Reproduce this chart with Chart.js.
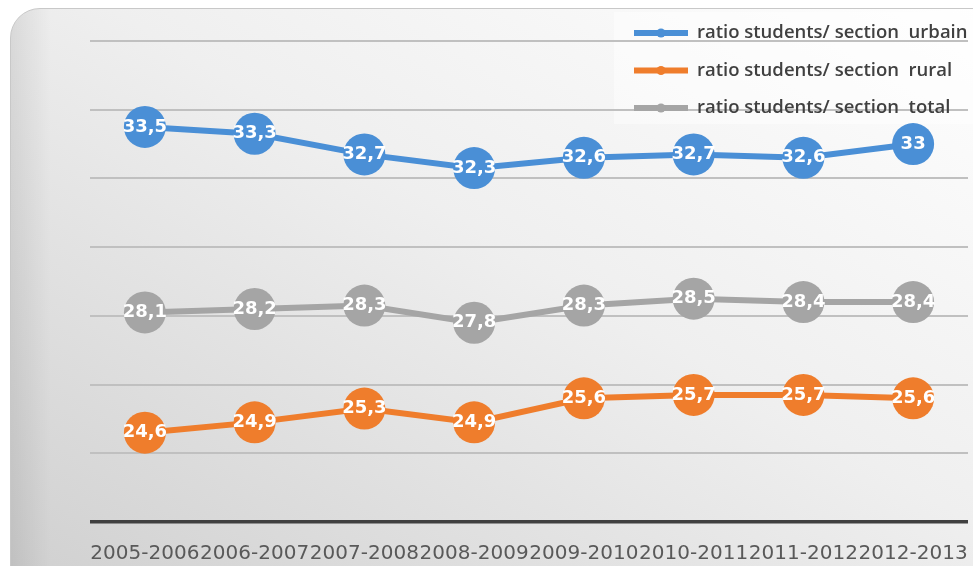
<!DOCTYPE html>
<html>
<head>
<meta charset="utf-8">
<script src="https://cdn.jsdelivr.net/npm/chart.js@4"></script>
<style>
  body { margin: 0; background: #fff; overflow: hidden; }
  #wrap { position: relative; width: 973px; height: 566px; overflow: hidden; }
  #bg {
    position: absolute; left: 10px; top: 8px; width: 990px; height: 590px;
    border-radius: 30px; border: 1px solid #c8c8c8;
    background:
      linear-gradient(to right, rgba(0,0,0,0.08) 0px, rgba(0,0,0,0) 40px),
      linear-gradient(to bottom left, #ffffff 0%, #efefef 45%, #cfcfcf 100%);
  }
  #legendBox {
    position: absolute; left: 614px; top: 12px; width: 360px; height: 112px;
    background: rgba(255,255,255,0.45);
  }
  canvas { position: absolute; left: 0; top: 0; }
</style>
</head>
<body>
<div id="wrap">
  <div id="bg"></div>
  <div id="legendBox"></div>
  <canvas id="c" width="989" height="566"></canvas>
</div>
<script>
// données
const annees = ['2005-2006', '2006-2007', '2007-2008', '2008-2009', '2009-2010', '2010-2011', '2011-2012', '2012-2013'];
const urbain = [33.5, 33.3, 32.7, 32.3, 32.6, 32.7, 32.6, 33];
const rural  = [24.6, 24.9, 25.3, 24.9, 25.6, 25.7, 25.7, 25.6];
const total  = [28.1, 28.2, 28.3, 27.8, 28.3, 28.5, 28.4, 28.4];

const nomsSeries = ['ratio students/ section  urbain', 'ratio students/ section  rural', 'ratio students/ section  total'];
const couleurs = ['#4a8fd6', '#ef7d2c', '#a5a5a5'];

function serie(i, valeurs) {
    return {
        label: nomsSeries[i],
        data: valeurs,
        borderColor: couleurs[i],
        backgroundColor: couleurs[i],
        borderWidth: 6,
        pointRadius: 21,
        pointHoverRadius: 21,
        pointBorderWidth: 0,
        tension: 0
    };
}

// étiquettes blanches au centre des points
const etiquettes = {
    id: 'etiquettes',
    afterDatasetsDraw(chart) {
        const ctx = chart.ctx;
        ctx.save();
        ctx.font = 'bold 18px "DejaVu Sans"';
        ctx.fillStyle = '#ffffff';
        ctx.textAlign = 'center';
        ctx.textBaseline = 'middle';
        chart.data.datasets.forEach((ds, i) => {
            chart.getDatasetMeta(i).data.forEach((pt, j) => {
                ctx.fillText(String(ds.data[j]).replace('.', ','), pt.x, pt.y);
            });
        });
        ctx.restore();
    }
};

// légende verticale en haut à droite
const legende = {
    id: 'legende',
    afterDraw(chart) {
        const ctx = chart.ctx;
        ctx.save();
        chart.data.datasets.forEach((ds, i) => {
            const y = 33 + i * 37.5;
            ctx.strokeStyle = ds.borderColor;
            ctx.lineWidth = 6;
            ctx.beginPath();
            ctx.moveTo(634, y);
            ctx.lineTo(688, y);
            ctx.stroke();
            ctx.fillStyle = ds.borderColor;
            ctx.beginPath();
            ctx.arc(661, y, 4.5, 0, Math.PI * 2);
            ctx.fill();
            ctx.fillStyle = '#404040';
            ctx.font = '600 18.5px "Open Sans"';
            ctx.textBaseline = 'middle';
            ctx.fillText(ds.label, 697, y);
        });
        ctx.restore();
    }
};

new Chart(document.getElementById('c'), {
    type: 'line',
    data: {
        labels: annees,
        datasets: [serie(0, urbain), serie(1, rural), serie(2, total)]
    },
    options: {
        responsive: false,
        animation: false,
        layout: { padding: { left: 90, right: 0, top: 41, bottom: -12 } },
        plugins: { legend: { display: false }, tooltip: { enabled: false } },
        scales: {
            x: {
                offset: true,
                grid: { display: false },
                border: { display: false },
                ticks: {
                    color: '#595959',
                    font: { family: '"DejaVu Sans"', size: 20 },
                    maxRotation: 0,
                    autoSkip: false,
                    padding: 12
                }
            },
            y: {
                min: 22,
                max: 36,
                ticks: { display: false, stepSize: 2 },
                border: { display: false },
                grid: {
                    drawTicks: false,
                    color: c => c.tick.value === 22 ? '#404040' : '#c0c0c0',
                    lineWidth: c => c.tick.value === 22 ? 3.5 : 2
                }
            }
        }
    },
    plugins: [etiquettes, legende]
});
</script>
</body>
</html>
